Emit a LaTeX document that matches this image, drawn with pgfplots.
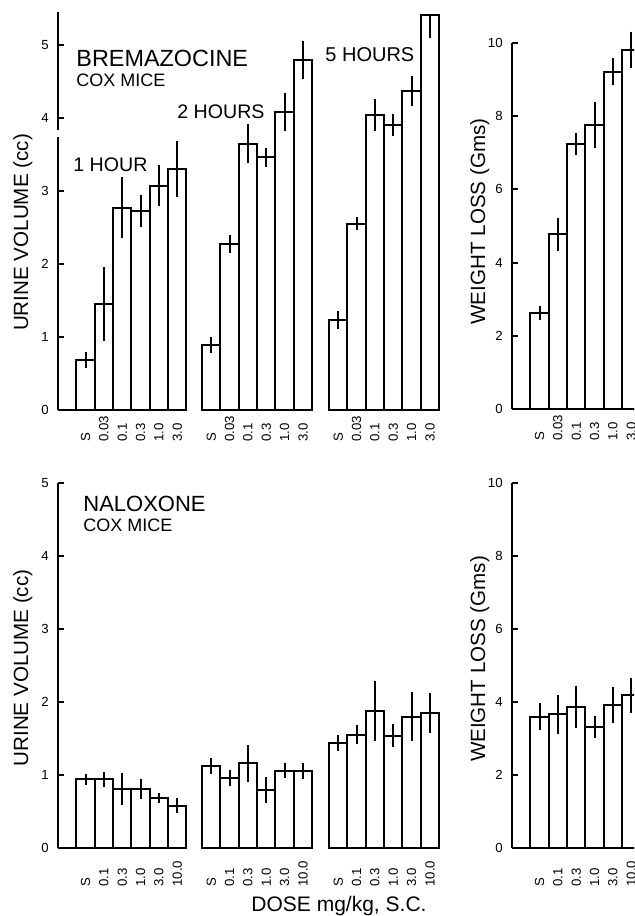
\documentclass[border=0pt]{standalone}
\usepackage{fontspec}
\setmainfont{Liberation Sans}
\usepackage{pgfplots}
\pgfplotsset{compat=1.18}

% one panel: bars of unit width, y axis on the left, x axis drawn by hand
\pgfplotsset{
  panel/.style={
    anchor=south west,
    x=9.175pt,
    xmin=0, ymin=0,
    axis x line*=bottom, axis y line*=left,
    axis line style={line width=1pt},
    x axis line style={draw=none},
    xtick style={draw=none},
    ytick style={line width=1pt, black},
    major tick length=3pt,
    tick align=inside,
    clip=false,
    /pgf/number format/assume math mode=true,
    yticklabel style={font=\fontsize{6.6}{7}\selectfont, inner sep=0pt, xshift=-4.5pt},
    xticklabel style={rotate=90, anchor=west, inner sep=0pt,
      font=\fontsize{6.6}{7}\selectfont},
  },
  bars/.style={ybar, bar width=1, bar shift=0pt, fill=white, draw=black,
    line width=1pt,
    error bars/.cd, y dir=both, y explicit, error mark=none,
    error bar style={line width=1pt, black}},
}

\begin{document}
\begin{tikzpicture}
\useasboundingbox (0,0) rectangle (317pt,458pt);
\clip (0,0) rectangle (317pt,458pt);

% ---------------- Bremazocine, urine volume
\begin{axis}[panel, at={(29pt,253pt)}, y=36.5pt, xmax=20.8, ymax=5.45,
    ytick={0,1,2,3,4,5}, xticklabel shift=16pt,
    xtick={1.5,2.5,3.5,4.5,5.5,6.5,8.35,9.35,10.35,11.35,12.35,13.35,15.27,16.27,17.27,18.27,19.27,20.27},
    xticklabels={S,0.03,0.1,0.3,1.0,3.0,S,0.03,0.1,0.3,1.0,3.0,S,0.03,0.1,0.3,1.0,3.0}]
\addplot[bars] coordinates {% 1 hour
  (1.5,0.685) +- (0,0.11) (2.5,1.45) +- (0,0.51) (3.5,2.77) +- (0,0.42)
  (4.5,2.72) +- (0,0.22) (5.5,3.07) +- (0,0.28) (6.5,3.30) +- (0,0.38)};
\addplot[bars] coordinates {% 2 hours
  (8.35,0.89) +- (0,0.11) (9.35,2.27) +- (0,0.125) (10.35,3.65) +- (0,0.27)
  (11.35,3.46) +- (0,0.125) (12.35,4.08) +- (0,0.26) (13.35,4.80) +- (0,0.26)};
\addplot[bars] coordinates {% 5 hours
  (15.27,1.23) +- (0,0.125) (16.27,2.55) +- (0,0.09) (17.27,4.04) +- (0,0.22)
  (18.27,3.91) +- (0,0.15) (19.27,4.37) +- (0,0.21) (20.27,5.41) += (0,0) -= (0,0.32)};
\draw[line width=1pt] (axis cs:0,0) -- (axis cs:7,0);
\draw[line width=1pt] (axis cs:7.85,0) -- (axis cs:13.85,0);
\draw[line width=1pt] (axis cs:14.77,0) -- (axis cs:20.77,0);
\draw[white, line width=2pt] (axis cs:0,3.74) -- (axis cs:0,3.83);
\end{axis}

% ---------------- Bremazocine, weight loss
\begin{axis}[panel, at={(256pt,253.5pt)}, y=18.3pt, xmax=7.2, ymax=10,
    ytick={0,2,4,6,8,10}, xticklabel shift=16pt,
    xtick={1.5,2.5,3.5,4.5,5.5,6.5},
    xticklabels={S,0.03,0.1,0.3,1.0,3.0}]
\addplot[bars] coordinates {
  (1.5,2.62) +- (0,0.2) (2.5,4.77) +- (0,0.45) (3.5,7.24) +- (0,0.3)
  (4.5,7.76) +- (0,0.64) (5.5,9.22) +- (0,0.37) (6.5,9.81) +- (0,0.5)};
\draw[line width=1pt] (axis cs:0,0) -- (axis cs:7.2,0);
\end{axis}

% ---------------- Naloxone, urine volume
\begin{axis}[panel, at={(29pt,34pt)}, y=36.5pt, xmax=20.8, ymax=5,
    ytick={0,1,2,3,4,5}, xticklabel shift=19.5pt,
    xtick={1.5,2.5,3.5,4.5,5.5,6.5,8.35,9.35,10.35,11.35,12.35,13.35,15.27,16.27,17.27,18.27,19.27,20.27},
    xticklabels={S,0.1,0.3,1.0,3.0,10.0,S,0.1,0.3,1.0,3.0,10.0,S,0.1,0.3,1.0,3.0,10.0}]
\addplot[bars] coordinates {
  (1.5,0.94) +- (0,0.08) (2.5,0.94) +- (0,0.1) (3.5,0.81) +- (0,0.22)
  (4.5,0.81) +- (0,0.14) (5.5,0.68) +- (0,0.07) (6.5,0.58) +- (0,0.1)};
\addplot[bars] coordinates {
  (8.35,1.12) +- (0,0.11) (9.35,0.96) +- (0,0.11) (10.35,1.16) +- (0,0.25)
  (11.35,0.79) +- (0,0.18) (12.35,1.06) +- (0,0.1) (13.35,1.06) +- (0,0.11)};
\addplot[bars] coordinates {
  (15.27,1.44) +- (0,0.11) (16.27,1.55) +- (0,0.13) (17.27,1.88) +- (0,0.41)
  (18.27,1.54) +- (0,0.16) (19.27,1.80) +- (0,0.34) (20.27,1.85) +- (0,0.27)};
\draw[line width=1pt] (axis cs:0,0) -- (axis cs:7,0);
\draw[line width=1pt] (axis cs:7.85,0) -- (axis cs:13.85,0);
\draw[line width=1pt] (axis cs:14.77,0) -- (axis cs:20.77,0);
\end{axis}

% ---------------- Naloxone, weight loss
\begin{axis}[panel, at={(256pt,34pt)}, y=18.25pt, xmax=7.2, ymax=10,
    ytick={0,2,4,6,8,10}, xticklabel shift=19.5pt,
    xtick={1.5,2.5,3.5,4.5,5.5,6.5},
    xticklabels={S,0.1,0.3,1.0,3.0,10.0}]
\addplot[bars] coordinates {
  (1.5,3.60) +- (0,0.36) (2.5,3.66) +- (0,0.53) (3.5,3.87) +- (0,0.58)
  (4.5,3.32) +- (0,0.31) (5.5,3.92) +- (0,0.5) (6.5,4.19) +- (0,0.48)};
\draw[line width=1pt] (axis cs:0,0) -- (axis cs:7.2,0);
\end{axis}

% ---------------- texts
\begin{scope}[every node/.style={inner sep=0pt}]
\node[anchor=base, rotate=90, font=\fontsize{10.3}{12}\selectfont] at (14pt,341.75pt) {URINE VOLUME (cc)};
\node[anchor=base, rotate=90, font=\fontsize{10.3}{12}\selectfont] at (14pt,124pt) {URINE VOLUME (cc)};
\node[anchor=base, rotate=90, font=\fontsize{10.3}{12}\selectfont] at (242.5pt,347.25pt) {WEIGHT LOSS (Gms)};
\node[anchor=base, rotate=90, font=\fontsize{10.3}{12}\selectfont] at (242.5pt,128.5pt) {WEIGHT LOSS (Gms)};
\node[anchor=base west, font=\fontsize{11.7}{13}\selectfont] at (38pt,424.5pt) {BREMAZOCINE};
\node[anchor=base west, font=\fontsize{9}{11}\selectfont] at (38pt,414.5pt) {COX MICE};
\node[anchor=base west, font=\fontsize{9.8}{12}\selectfont] at (36.5pt,372pt) {1 HOUR};
\node[anchor=base west, font=\fontsize{9.8}{12}\selectfont] at (88.5pt,398.5pt) {2 HOURS};
\node[anchor=base west, font=\fontsize{10}{12}\selectfont] at (162.5pt,427pt) {5 HOURS};
\node[anchor=base west, font=\fontsize{11}{13}\selectfont] at (41.5pt,202.2pt) {NALOXONE};
\node[anchor=base west, font=\fontsize{9}{11}\selectfont] at (41.5pt,192.2pt) {COX MICE};
\node[anchor=base, font=\fontsize{10.5}{12}\selectfont] at (169.5pt,2.2pt) {DOSE mg/kg, S.C.};
\end{scope}
\end{tikzpicture}
\end{document}
